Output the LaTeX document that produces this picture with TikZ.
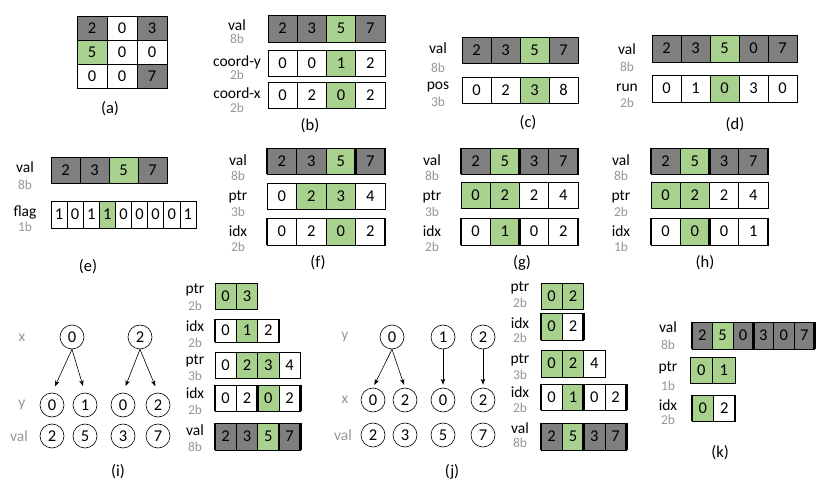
\documentclass[tikz,border=0pt]{standalone}
\usepackage{fontspec}
\setmainfont{Carlito}
\usetikzlibrary{arrows.meta}
\definecolor{cg}{RGB}{127,127,127}
\definecolor{cv}{RGB}{169,209,142}
\definecolor{lg}{RGB}{150,150,150}
\tikzset{
  cell/.style={draw, line width=0.6pt, inner sep=0pt, outer sep=0pt, font=\fontsize{16.5}{19}\selectfont, text=black},
  tbar/.style={line width=2.6pt, black},
  lname/.style={font=\fontsize{15.5}{18}\selectfont, inner sep=0pt},
  lbits/.style={font=\fontsize{13.5}{15}\selectfont, text=lg, inner sep=0pt},
  capt/.style={font=\fontsize{16.5}{19}\selectfont, inner sep=0pt},
  tlab/.style={font=\fontsize{15.5}{18}\selectfont, text=lg, inner sep=0pt},
  tnode/.style={draw, circle, line width=0.6pt, minimum size=24pt, inner sep=0pt, font=\fontsize{16.5}{19}\selectfont},
  arr/.style={-{Stealth[length=6pt,width=4.5pt]}, line width=0.6pt}
}
\newcommand\crow[6]{\foreach \f/\v [count=\i from 0] in {#6}{\node[cell,fill=\f,minimum width=#4pt,minimum height=#5pt] (#1-\i) at ({#2+(\i+0.5)*#4},{#3+#5/2}) {\v};}}
\newcommand\tbw[1]{\draw[tbar] (#1.north west) -- (#1.south west);}
\newcommand\tbe[1]{\draw[tbar] (#1.north east) -- (#1.south east);}
\newcommand\lab[6]{\node[lname] (#1) at (#2,#3) {#4}; \node[lbits] (#1b) at (#2,#5) {#6};}
\begin{document}
\begin{tikzpicture}[x=1pt,y=-1pt]
\useasboundingbox (0,0) rectangle (831,489);
% (a)
\crow{a1}{77}{16}{30}{24}{cg/2,white/0,cg/3}
\crow{a2}{77}{40}{30}{24}{cv/5,white/0,white/0}
\crow{a3}{77}{64}{30}{24}{white/0,white/0,cg/7}
\node[capt] (capa) at (110,109) {(a)};
% (b)
\lab{bl1}{237}{25}{val}{39}{8b}
\lab{bl2}{237}{62}{coord-y}{75}{2b}
\lab{bl3}{237}{93}{coord-x}{108}{2b}
\crow{bv}{268}{15}{29.2}{27}{cg/2,cg/3,cv/5,cg/7}
\crow{by}{268}{50}{29.2}{26}{white/0,white/0,cv/1,white/2}
\crow{bx}{268}{82}{29.2}{26}{white/0,white/2,cv/0,white/2}
\node[capt] (capb) at (310,126) {(b)};
% (c)
\lab{cl1}{438}{48}{val}{68}{8b}
\lab{cl2}{438}{87}{pos}{102}{3b}
\crow{cval}{462}{37}{29}{26}{cg/2,cg/3,cv/5,cg/7}
\crow{cp}{462}{77}{29}{26}{white/0,white/2,cv/3,white/8}
\node[capt] (capc) at (528,123) {(c)};
% (d)
\lab{dl1}{627}{49}{val}{67}{8b}
\lab{dl2}{627}{88}{run}{103}{2b}
\crow{dv}{652}{35}{29}{27}{cg/2,cg/3,cv/5,cg/0,cg/7}
\crow{dr}{652}{75}{29}{27}{white/0,white/1,cv/0,white/3,white/0}
\node[capt] (capd) at (735,125) {(d)};
% (e)
\lab{el1}{25}{167}{val}{185}{8b}
\lab{el2}{25}{212}{flag}{227}{1b}
\crow{ev}{51}{157}{29}{26}{cg/2,cg/3,cv/5,cg/7}
\crow{ef}{51}{201}{16.1}{27}{white/1,white/0,white/1,cv/1,white/0,white/0,white/0,white/0,white/1}
\node[capt] (cape) at (88,267) {(e)};
% (f)
\lab{fl1}{238}{160}{val}{176}{8b}
\lab{fl2}{238}{197}{ptr}{212}{3b}
\lab{fl3}{238}{231}{idx}{247}{2b}
\crow{fv}{267}{148}{29.5}{26}{cg/2,cg/3,cv/5,cg/7}
\crow{fp}{267}{183}{29.5}{26}{white/0,cv/2,cv/3,white/4}
\crow{fi}{267}{218}{29.5}{27}{white/0,white/2,cv/0,white/2}
\tbw{fv-0}\tbw{fv-3}\tbe{fv-3}\tbw{fi-0}\tbe{fi-3}
\node[capt] (capf) at (318,263) {(f)};
% (g)
\lab{gl1}{432}{160}{val}{176}{8b}
\lab{gl2}{432}{197}{ptr}{212}{3b}
\lab{gl3}{432}{231}{idx}{247}{2b}
\crow{gv}{461}{148}{29.25}{26}{cg/2,cv/5,cg/3,cg/7}
\crow{gp}{461}{182}{29.25}{26}{cv/0,cv/2,white/2,white/4}
\crow{gi}{461}{218}{29.25}{27}{white/0,cv/1,white/0,white/2}
\tbw{gv-0}\tbw{gv-2}\tbe{gv-3}\tbw{gi-0}\tbw{gi-2}\tbe{gi-3}
\node[capt] (capg) at (522,263) {(g)};
% (h)
\lab{hl1}{621}{160}{val}{176}{8b}
\lab{hl2}{621}{197}{ptr}{212}{2b}
\lab{hl3}{621}{231}{idx}{247}{1b}
\crow{hv}{651}{148}{29.25}{26}{cg/2,cv/5,cg/3,cg/7}
\crow{hp}{651}{182}{29.25}{26}{cv/0,cv/2,white/2,white/4}
\crow{hi}{651}{218}{29.25}{27}{white/0,cv/0,white/0,white/1}
\tbw{hv-0}\tbw{hv-2}\tbe{hv-3}\tbw{hi-0}\tbw{hi-2}\tbe{hi-3}
\node[capt] (caph) at (705,263) {(h)};
% (i) tree
\node[tlab] (ilx) at (22,338) {x};
\node[tlab] (ily) at (22,405) {y};
\node[tlab] (ilv) at (19,436) {val};
\node[tnode] (ix0) at (72,337) {0};
\node[tnode] (ix1) at (140,337) {2};
\node[tnode] (iy0) at (52,405) {0};
\node[tnode] (iy1) at (85,405) {1};
\node[tnode] (iy2) at (123,405) {0};
\node[tnode] (iy3) at (158,405) {2};
\node[tnode] (iv0) at (52,436) {2};
\node[tnode] (iv1) at (85,436) {5};
\node[tnode] (iv2) at (123,436) {3};
\node[tnode] (iv3) at (158,436) {7};
\draw[arr,shorten >=7pt] (ix0.south) -- (iy0.north);
\draw[arr,shorten >=7pt] (ix0.south) -- (iy1.north);
\draw[arr,shorten >=7pt] (ix1.south) -- (iy2.north);
\draw[arr,shorten >=7pt] (ix1.south) -- (iy3.north);
% (i) arrays
\lab{il1}{195}{290}{ptr}{306}{2b}
\lab{il2}{195}{326}{idx}{343}{2b}
\lab{il3}{195}{361}{ptr}{376}{3b}
\lab{il4}{195}{393}{idx}{410}{2b}
\lab{il5}{195}{430}{val}{447}{8b}
\crow{ip1}{215}{283}{21.3}{26}{cv/0,cv/3}
\crow{ii1}{215}{319}{21.3}{23}{white/0,cv/1,white/2}
\crow{ip2}{215}{352}{21.3}{26}{white/0,cv/2,cv/3,white/4}
\crow{ii2}{215}{385}{21.3}{26}{white/0,white/2,cv/0,white/2}
\crow{iva}{215}{423}{21.3}{27}{cg/2,cg/3,cv/5,cg/7}
\tbw{ii1-0}\tbe{ii1-2}
\tbw{ii2-0}\tbw{ii2-2}\tbe{ii2-3}
\tbw{iva-0}\tbw{iva-3}\tbe{iva-3}
\node[capt] (capi) at (118,472) {(i)};
% (j) tree
\node[tlab] (jly) at (345,337) {y};
\node[tlab] (jlx) at (345,400) {x};
\node[tlab] (jlv) at (343,435) {val};
\node[tnode] (jy0) at (392,337) {0};
\node[tnode] (jy1) at (443,337) {1};
\node[tnode] (jy2) at (483,337) {2};
\node[tnode] (jx0) at (373,400) {0};
\node[tnode] (jx1) at (405,400) {2};
\node[tnode] (jx2) at (443,400) {0};
\node[tnode] (jx3) at (483,400) {2};
\node[tnode] (jv0) at (373,435) {2};
\node[tnode] (jv1) at (405,435) {3};
\node[tnode] (jv2) at (443,435) {5};
\node[tnode] (jv3) at (483,435) {7};
\draw[arr,shorten >=3pt] (jy0.south) -- (jx0.north);
\draw[arr,shorten >=3pt] (jy0.south) -- (jx1.north);
\draw[arr,shorten >=3pt] (jy1.south) -- (jx2.north);
\draw[arr,shorten >=3pt] (jy2.south) -- (jx3.north);
% (j) arrays
\lab{jl1}{520}{288}{ptr}{303}{2b}
\lab{jl2}{520}{323}{idx}{338}{2b}
\lab{jl3}{520}{360}{ptr}{375}{3b}
\lab{jl4}{520}{392}{idx}{408}{2b}
\lab{jl5}{520}{428}{val}{443}{8b}
\crow{jp1}{541}{283}{21.3}{26}{cv/0,cv/2}
\crow{ji1}{541}{313}{21.3}{27}{cv/0,white/2}
\crow{jp2}{541}{350}{21.3}{27}{cv/0,cv/2,white/4}
\crow{ji2}{541}{384}{21.3}{26}{white/0,cv/1,white/0,white/2}
\crow{jva}{541}{423}{21.3}{27}{cg/2,cv/5,cg/3,cg/7}
\tbw{ji1-0}\tbe{ji1-1}
\tbw{ji2-0}\tbw{ji2-2}\tbe{ji2-3}
\tbw{jva-0}\tbw{jva-2}\tbe{jva-3}
\node[capt] (capj) at (452,472) {(j)};
% (k)
\lab{kl1}{668}{327}{val}{345}{8b}
\lab{kl2}{668}{368}{ptr}{386}{1b}
\lab{kl3}{668}{405}{idx}{420}{2b}
\crow{kv}{692}{322}{20.4}{27}{cg/2,cv/5,cg/0,cg/3,cg/0,cg/7}
\crow{kp}{690}{357}{22.5}{26}{cv/0,cv/1}
\crow{ki}{692}{395}{21.5}{26}{cv/0,white/2}
\tbw{kv-0}\tbw{kv-3}\tbe{kv-5}
\tbw{ki-0}\tbe{ki-1}
\node[capt] (capk) at (720,453) {(k)};
\end{tikzpicture}
\end{document}
